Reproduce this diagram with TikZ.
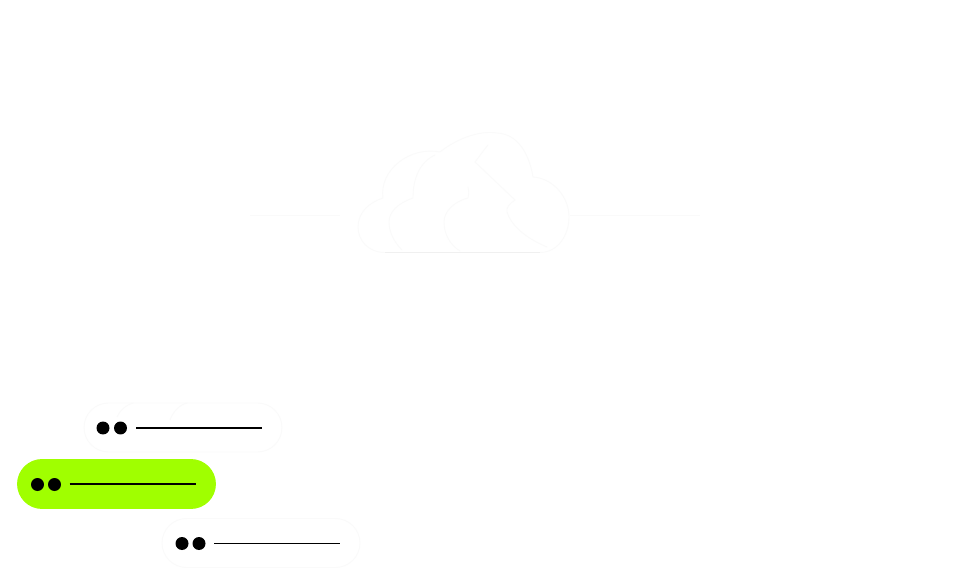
\documentclass[tikz,border=0pt]{standalone}
\usepackage{tikz}
\usetikzlibrary{positioning}
\definecolor{limegreen}{HTML}{A0FF00}
\definecolor{faintgray}{HTML}{FAFAFA}
\definecolor{edgegray}{HTML}{F0F0F0}
\tikzstyle{pillbox} = [draw=faintgray, line width=0.5pt, rectangle, rounded corners=0.49cm, minimum width=3.96cm, minimum height=0.98cm, inner sep=0, outer sep=0, fill=white]
\tikzstyle{dotmark} = [circle, fill=black, minimum size=0.26cm, inner sep=0, outer sep=0]
\tikzstyle{bar} = [line width=0.6pt, black]
\tikzstyle{faintline} = [draw=faintgray, line width=0.5pt]

\begin{document}
\begin{tikzpicture}[x=0.02cm, y=-0.02cm]
    \useasboundingbox (0,0) rectangle (980,587);
    \fill[white] (0,0) rectangle (980,587);

    % Cloud (outline and inner lobes)
    \draw[faintline] (385,252.5) .. controls (368,252.5) and (358,240) .. (358,227)
        .. controls (358,212) and (370,202) .. (383,198)
        .. controls (379,170) and (410,146) .. (440,152)
        .. controls (455,140) and (478,130) .. (497,133)
        .. controls (520,134) and (530,158) .. (533,177)
        .. controls (552,178) and (569,196) .. (569,217)
        .. controls (569,235) and (558,252.5) .. (540,252.5);
    \draw[edgegray, line width=0.5pt] (385,252.5) -- (540,252.5);
    \draw[faintline] (435,155) .. controls (420,162) and (413,178) .. (413,198)
        .. controls (398,203) and (389,212) .. (389,222) .. controls (389,232) and (394,242) .. (402,250);
    \draw[faintline] (468,187) .. controls (469,192) and (469,195) .. (468,198)
        .. controls (453,202) and (444,212) .. (444,222) .. controls (444,234) and (450,245) .. (460,251);
    \draw[faintline] (488,145) .. controls (483,151) and (479,157) .. (475,162)
        -- (515,200) .. controls (509,204) and (506,208) .. (507,212)
        .. controls (512,228) and (530,240) .. (547,247);

    % Side lines
    \coordinate (cloudleft) at (250,215);
    \coordinate (cloudedge) at (340,215);
    \coordinate (cloudright) at (570,215);
    \coordinate (cloudend) at (700,215);
    \draw[faintline] (cloudleft) -- (cloudedge);
    \draw[faintline] (cloudright) -- (cloudend);

    % Pills
    \node[pillbox] (pilltop) at (183,427.5) {};
    \node[pillbox, fill=limegreen, draw=limegreen] (pillgreen) at (116.5,484) {};
    \node[pillbox] (pillbottom) at (261,543) {};

    % Faint lobes in the top pill
    \draw[faintline] (117,417) .. controls (120,410) and (126,405) .. (133,403);
    \draw[faintline] (170,420) .. controls (173,412) and (179,405) .. (187,403);

    % Dots
    \node[dotmark] (dottopa) at (103,428) {};
    \node[dotmark] (dottopb) at (120.5,428) {};
    \node[dotmark] (dotgreena) at (37.5,484.5) {};
    \node[dotmark] (dotgreenb) at (54.5,484.5) {};
    \node[dotmark] (dotbottoma) at (182,543.5) {};
    \node[dotmark] (dotbottomb) at (199,543.5) {};

    % Bars
    \coordinate (bartopa) at (136,428);
    \coordinate (bartopb) at (261.5,428);
    \coordinate (bargreena) at (69.5,484);
    \coordinate (bargreenb) at (195.5,484);
    \coordinate (barbottoma) at (214,543.5);
    \coordinate (barbottomb) at (340,543.5);
    \draw[bar] (bartopa) -- (bartopb);
    \draw[bar] (bargreena) -- (bargreenb);
    \draw[bar] (barbottoma) -- (barbottomb);
\end{tikzpicture}
\end{document}
